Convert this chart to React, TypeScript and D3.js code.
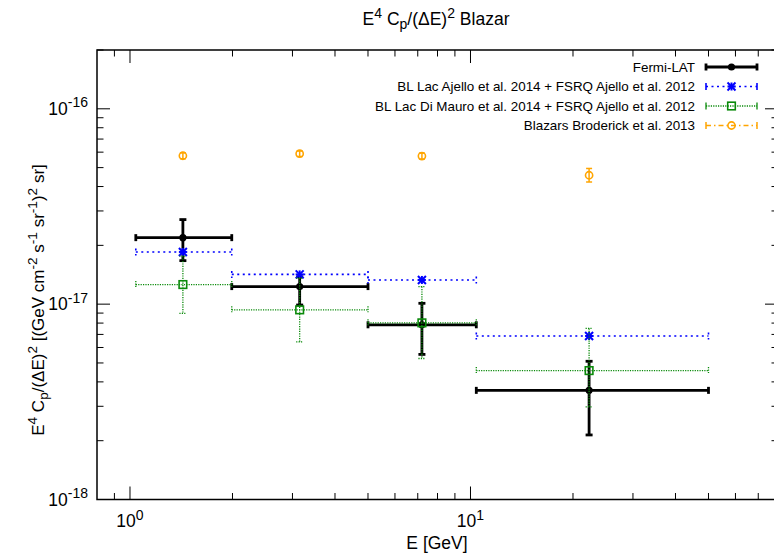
import React from "react";
import * as d3 from "d3";
import { useEffect, useRef } from "react";

// energy bins [GeV]
const binLo = [1.04, 1.99, 5.0, 10.4];
const binHi = [1.99, 5.0, 10.4, 50.0];
const binCenter = [1.43, 3.15, 7.2, 22.3];

// Fermi-LAT measurement
const fermiVal = [2.19e-17, 1.23e-17, 7.84e-18, 3.62e-18];
const fermiLo = [1.67e-17, 0.99e-17, 5.53e-18, 2.14e-18];
const fermiHi = [2.71e-17, 1.38e-17, 1.01e-17, 5.1e-18];

// BL Lac Ajello 2014 + FSRQ Ajello 2012
const ajelloVal = [1.85e-17, 1.42e-17, 1.33e-17, 6.87e-18];

// BL Lac Di Mauro 2014 + FSRQ Ajello 2012
const diMauroVal = [1.26e-17, 9.35e-18, 8.02e-18, 4.57e-18];
const diMauroLo = [8.96e-18, 6.41e-18, 5.27e-18, 2.98e-18];
const diMauroHi = [1.76e-17, 1.36e-17, 1.23e-17, 7.51e-18];

// Broderick 2013
const broderickVal = [5.75e-17, 5.89e-17, 5.73e-17, 4.57e-17];
const broderickLo = [5.55e-17, 5.7e-17, 5.53e-17, 4.22e-17];
const broderickHi = [5.95e-17, 6.08e-17, 5.93e-17, 4.95e-17];

const legendLabels = [
  "Fermi-LAT",
  "BL Lac Ajello et al. 2014 + FSRQ Ajello et al. 2012",
  "BL Lac Di Mauro et al. 2014 + FSRQ Ajello et al. 2012",
  "Blazars Broderick et al. 2013",
];

const xMajor = [1, 10];
const xMinor = [0.9, 2, 3, 4, 5, 6, 7, 8, 9, 20, 30, 40, 50, 60, 70];
const yMajor = [1e-18, 1e-17, 1e-16];
const yMinor = [2, 3, 4, 5, 6, 7, 8, 9]
  .flatMap((m) => [m * 1e-18, m * 1e-17])
  .concat([2e-16]);
const xTickLabels = ["10^{0}", "10^{1}"];
const yTickLabels = ["10^{-18}", "10^{-17}", "10^{-16}"];

const FONT = "'Liberation Sans', Arial, Helvetica, sans-serif";
const BLUE = "#0000ff";
const GREEN = "#0a8a0a";
const ORANGE = "#ffa500";

// writes gnuplot-like enhanced text (^{} superscript, _{} subscript)
function rich(text, str, size) {
  const parts = str.split(/(\^\{[^}]*\}|_\{[^}]*\})/).filter((p) => p !== "");
  let shift = 0;
  parts.forEach((p) => {
    let target = 0;
    let fs = size;
    let content = p;
    if (p.startsWith("^{")) {
      target = -size * 0.42;
      fs = size * 0.8;
      content = p.slice(2, -1);
    } else if (p.startsWith("_{")) {
      target = size * 0.22;
      fs = size * 0.8;
      content = p.slice(2, -1);
    }
    text
      .append("tspan")
      .attr("dy", target - shift)
      .attr("font-size", fs)
      .text(content);
    shift = target;
  });
}

export default function App() {
  const svgRef = useRef(null);
  const width = 774;
  const height = 554;
  const left = 97;
  const right = 778;
  const top = 50;
  const bottom = 499.5;

  useEffect(() => {
    const svg = d3.select(svgRef.current);
    svg.selectAll("*").remove();

    const x = d3.scaleLog().domain([0.8, 80]).range([left, right]);
    const y = d3.scaleLog().domain([1e-18, 2e-16]).range([bottom, top]);

    const g = svg.append("g").attr("font-family", FONT);

    // frame
    g.append("rect")
      .attr("x", left)
      .attr("y", top)
      .attr("width", right - left)
      .attr("height", bottom - top)
      .attr("fill", "none")
      .attr("stroke", "black")
      .attr("stroke-width", 1.5);

    // ticks, inward on all four sides
    const ticks = g.append("g").attr("stroke", "black").attr("stroke-width", 1);
    const xTick = (v, len) => {
      ticks.append("line").attr("x1", x(v)).attr("x2", x(v)).attr("y1", bottom).attr("y2", bottom - len);
      ticks.append("line").attr("x1", x(v)).attr("x2", x(v)).attr("y1", top).attr("y2", top + len);
    };
    const yTick = (v, len) => {
      ticks.append("line").attr("x1", left).attr("x2", left + len).attr("y1", y(v)).attr("y2", y(v));
      ticks.append("line").attr("x1", right).attr("x2", right - len).attr("y1", y(v)).attr("y2", y(v));
    };
    xMajor.forEach((v) => xTick(v, 13));
    xMinor.forEach((v) => xTick(v, 6.5));
    yMajor.forEach((v) => yTick(v, 13));
    yMinor.forEach((v) => yTick(v, 6.5));

    // tick labels
    xMajor.forEach((v, i) => {
      const t = g
        .append("text")
        .attr("x", x(v))
        .attr("y", 527)
        .attr("text-anchor", "middle")
        .attr("font-size", 17.5);
      rich(t, xTickLabels[i], 17.5);
    });
    yMajor.forEach((v, i) => {
      const t = g
        .append("text")
        .attr("x", 88)
        .attr("y", y(v) + 6)
        .attr("text-anchor", "end")
        .attr("font-size", 17.5);
      rich(t, yTickLabels[i], 17.5);
    });

    // titles
    const title = g
      .append("text")
      .attr("x", 436)
      .attr("y", 25)
      .attr("text-anchor", "middle")
      .attr("font-size", 17.5)
      .style("white-space", "pre");
    rich(title, "E^{4} C_{p}/(ΔE)^{2} Blazar", 17.5);

    g.append("text")
      .attr("x", 437)
      .attr("y", 549)
      .attr("text-anchor", "middle")
      .attr("font-size", 17.5)
      .text("E [GeV]");

    const ylab = g
      .append("text")
      .attr("transform", "translate(44, 300) rotate(-90)")
      .attr("text-anchor", "middle")
      .attr("font-size", 17)
      .style("white-space", "pre");
    rich(ylab, "E^{4} C_{p}/(ΔE)^{2} [(GeV cm^{-2} s^{-1} sr^{-1})^{2} sr]", 17);

    // marker shapes
    const marker = (sel, kind, cx, cy, color) => {
      if (kind === "dot") {
        sel.append("circle").attr("cx", cx).attr("cy", cy).attr("r", 2.2).attr("fill", color);
      } else if (kind === "star") {
        const s = 4;
        const m = sel.append("g").attr("stroke", color).attr("stroke-width", 2).attr("stroke-dasharray", "none");
        m.append("line").attr("x1", cx - s).attr("x2", cx + s).attr("y1", cy).attr("y2", cy);
        m.append("line").attr("x1", cx).attr("x2", cx).attr("y1", cy - s).attr("y2", cy + s);
        m.append("line").attr("x1", cx - s).attr("x2", cx + s).attr("y1", cy - s).attr("y2", cy + s);
        m.append("line").attr("x1", cx - s).attr("x2", cx + s).attr("y1", cy + s).attr("y2", cy - s);
      } else if (kind === "square") {
        sel.append("rect")
          .attr("x", cx - 3.8)
          .attr("y", cy - 3.8)
          .attr("width", 7.6)
          .attr("height", 7.6)
          .attr("fill", "none")
          .attr("stroke", color)
          .attr("stroke-width", 1.6)
          .attr("stroke-dasharray", "none");
      } else if (kind === "circle") {
        sel.append("circle")
          .attr("cx", cx)
          .attr("cy", cy)
          .attr("r", 3.6)
          .attr("fill", "none")
          .attr("stroke", color)
          .attr("stroke-width", 1.6)
          .attr("stroke-dasharray", "none");
      }
    };

    const series = [
      { val: fermiVal, lo: fermiLo, hi: fermiHi, xerr: true, color: "black", width: 2.8, dash: "none", kind: "dot", cap: 3.5 },
      { val: ajelloVal, lo: null, hi: null, xerr: true, color: BLUE, width: 1.6, dash: "2,3.5", kind: "star", cap: 3.5 },
      { val: diMauroVal, lo: diMauroLo, hi: diMauroHi, xerr: true, color: GREEN, width: 1.3, dash: "1.2,1.2", kind: "square", cap: 3.5 },
      { val: broderickVal, lo: broderickLo, hi: broderickHi, xerr: false, color: ORANGE, width: 1.5, dash: "none", kind: "circle", cap: 3 },
    ];

    series.forEach((s) => {
      const sg = g
        .append("g")
        .attr("stroke", s.color)
        .attr("stroke-width", s.width)
        .attr("stroke-dasharray", s.dash)
        .attr("fill", "none");
      s.val.forEach((v, i) => {
        const cx = x(binCenter[i]);
        const cy = y(v);
        if (s.xerr) {
          const x0 = x(binLo[i]);
          const x1 = x(binHi[i]);
          sg.append("line").attr("x1", x0).attr("x2", x1).attr("y1", cy).attr("y2", cy);
          sg.append("line").attr("x1", x0).attr("x2", x0).attr("y1", cy - s.cap).attr("y2", cy + s.cap);
          sg.append("line").attr("x1", x1).attr("x2", x1).attr("y1", cy - s.cap).attr("y2", cy + s.cap);
        }
        if (s.lo) {
          const y0 = y(s.hi[i]);
          const y1 = y(s.lo[i]);
          sg.append("line").attr("x1", cx).attr("x2", cx).attr("y1", y0).attr("y2", y1);
          sg.append("line").attr("x1", cx - s.cap).attr("x2", cx + s.cap).attr("y1", y0).attr("y2", y0);
          sg.append("line").attr("x1", cx - s.cap).attr("x2", cx + s.cap).attr("y1", y1).attr("y2", y1);
        }
        marker(sg, s.kind, cx, cy, s.color);
      });
    });

    // legend
    const legend = g.append("g").attr("id", "legend");
    const legendDash = ["none", "2,3.5", "1.2,1.2", "5,3,1.5,3"];
    series.forEach((s, i) => {
      const ry = 67 + i * 19.5;
      legend
        .append("text")
        .attr("x", 695)
        .attr("y", ry + 4.7)
        .attr("text-anchor", "end")
        .attr("font-size", 13.4)
        .text(legendLabels[i]);
      const lg = legend
        .append("g")
        .attr("stroke", s.color)
        .attr("stroke-width", s.width)
        .attr("stroke-dasharray", legendDash[i])
        .attr("fill", "none");
      lg.append("line").attr("x1", 706).attr("x2", 757).attr("y1", ry).attr("y2", ry);
      lg.append("line").attr("x1", 706).attr("x2", 706).attr("y1", ry - 3.5).attr("y2", ry + 3.5).attr("stroke-dasharray", "none");
      lg.append("line").attr("x1", 757).attr("x2", 757).attr("y1", ry - 3.5).attr("y2", ry + 3.5).attr("stroke-dasharray", "none");
      marker(lg, s.kind, 731.5, ry, s.color);
    });
  }, []);

  return (
    <svg
      ref={svgRef}
      width={width}
      height={height}
      style={{ position: "absolute", left: 0, top: 0, background: "white" }}
    ></svg>
  );
}
